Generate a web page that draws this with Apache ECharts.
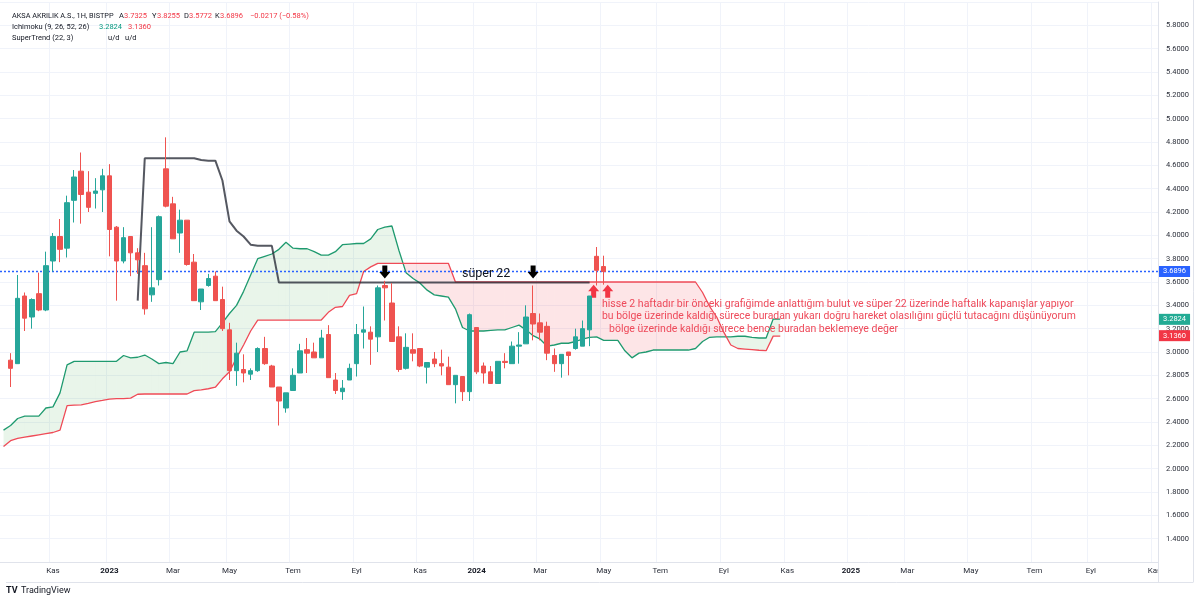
<!DOCTYPE html>
<html>
<head>
<meta charset="utf-8">
<title>AKSA haftalık</title>
<script src="https://cdn.jsdelivr.net/npm/echarts@6.0.0/dist/echarts.min.js"></script>
<style>
  html, body { margin: 0; padding: 0; background: #fff; }
  #chart { width: 1200px; height: 601px; }
</style>
</head>
<body>
<div id="chart"></div>
<script>
// weekly bars; index 0 is an empty week, candles start at index 1
const START_WEEK = '2022-09-19'
const WEEK_COUNT = 164
const MONTHS_TR = ['Oca', 'Şub', 'Mar', 'Nis', 'May', 'Haz', 'Tem', 'Ağu', 'Eyl', 'Eki', 'Kas', 'Ara']

const openVals = [2.93, 2.90, 3.48, 3.30, 3.50, 3.36, 3.78, 3.99, 3.89, 4.30, 4.55, 4.37, 4.36, 4.39, 4.51, 4.07, 3.78, 3.99, 3.85, 3.74,
  3.49, 3.62, 4.57, 4.27, 4.02, 4.13, 3.77, 3.43, 3.57, 3.65, 3.45, 3.19, 2.84, 2.85, 2.81, 2.84, 3.03, 2.88, 2.70, 2.52,
  2.67, 2.82, 3.02, 3.00, 2.95, 3.15, 2.76, 2.66, 2.76, 2.90, 3.17, 3.17, 3.13, 3.57, 3.42, 3.13, 2.86, 3.02, 3.03, 2.87,
  2.94, 2.90, 2.87, 2.72, 2.79, 2.66, 3.21, 2.88, 2.83, 2.73, 2.92, 2.90, 3.05, 3.07, 3.33, 3.25, 3.22, 2.97, 2.90, 3.00,
  3.03, 3.05, 3.19, 3.82, 3.7325]
const highVals = [2.99, 3.66, 3.51, 3.46, 3.68, 3.86, 4.02, 4.14, 4.34, 4.56, 4.71, 4.55, 4.49, 4.57, 4.61, 4.08, 4.07, 3.99, 3.89, 3.85,
  4.07, 4.17, 4.84, 4.33, 4.22, 4.13, 3.84, 3.54, 3.67, 3.69, 3.56, 3.25, 3.08, 2.98, 2.86, 3.04, 3.13, 2.89, 2.70, 2.65,
  2.86, 3.07, 3.12, 3.08, 3.19, 3.23, 2.82, 2.76, 2.90, 3.24, 3.39, 3.22, 3.57, 3.61, 3.59, 3.22, 3.16, 3.16, 3.03, 2.91,
  3.00, 3.02, 2.96, 2.80, 2.79, 3.33, 3.21, 2.91, 2.88, 2.92, 2.99, 3.09, 3.17, 3.40, 3.57, 3.33, 3.26, 3.03, 2.98, 3.00,
  3.20, 3.27, 3.48, 3.90, 3.8255]
const lowVals = [2.70, 2.90, 3.18, 3.20, 3.35, 3.35, 3.69, 3.77, 3.81, 4.11, 4.10, 4.20, 4.23, 4.20, 3.82, 3.44, 3.76, 3.65, 3.67, 3.32,
  3.43, 3.57, 4.24, 3.97, 3.85, 3.74, 3.44, 3.36, 3.56, 3.44, 3.18, 2.76, 2.71, 2.74, 2.76, 2.83, 2.89, 2.70, 2.37, 2.48,
  2.67, 2.82, 2.82, 2.95, 2.95, 2.78, 2.64, 2.59, 2.76, 2.79, 3.03, 2.89, 3.00, 3.27, 3.09, 2.83, 2.85, 2.92, 2.87, 2.73,
  2.87, 2.80, 2.72, 2.56, 2.58, 2.58, 2.81, 2.73, 2.73, 2.73, 2.86, 2.90, 2.90, 3.07, 3.10, 3.10, 2.93, 2.83, 2.78, 2.80,
  3.02, 3.05, 3.05, 3.57, 3.5772]
const closeVals = [2.86, 3.46, 3.29, 3.45, 3.36, 3.74, 3.99, 3.88, 4.28, 4.50, 4.35, 4.24, 4.38, 4.51, 4.05, 3.78, 3.98, 3.85, 3.79, 3.37,
  3.55, 4.16, 4.25, 3.97, 4.13, 3.75, 3.44, 3.54, 3.63, 3.44, 3.20, 2.84, 2.99, 2.82, 2.84, 3.03, 2.90, 2.70, 2.58, 2.65,
  2.80, 3.01, 2.99, 2.95, 3.12, 2.78, 2.67, 2.69, 2.86, 3.15, 3.19, 3.11, 3.55, 3.55, 3.09, 2.85, 3.04, 2.99, 2.88, 2.91,
  2.90, 2.88, 2.72, 2.80, 2.66, 3.32, 2.83, 2.82, 2.73, 2.92, 2.91, 3.05, 3.06, 3.30, 3.24, 3.17, 2.99, 2.90, 2.98, 2.97,
  3.13, 3.20, 3.48, 3.70, 3.6896]

// Ichimoku leading spans (already shifted forward), index 0..110
const spanA = [2.33, 2.37, 2.43, 2.45, 2.45, 2.45, 2.52, 2.53, 2.65, 2.89, 2.92, 2.92, 2.92, 2.92, 2.92, 2.92, 2.92, 2.97, 2.95, 2.955,
  2.974, 2.94, 2.90, 2.91, 2.90, 3.00, 3.01, 3.17, 3.17, 3.17, 3.175, 3.25, 3.33, 3.40, 3.52, 3.66, 3.80, 3.82, 3.84, 3.88,
  3.94, 3.89, 3.885, 3.885, 3.86, 3.83, 3.83, 3.86, 3.92, 3.925, 3.93, 3.93, 3.97, 4.05, 4.07, 4.08, 3.87, 3.68, 3.63, 3.59,
  3.53, 3.49, 3.48, 3.47, 3.37, 3.21, 3.18, 3.18, 3.18, 3.185, 3.19, 3.19, 3.21, 3.23, 3.19, 3.14, 3.11, 3.05, 3.06, 3.075,
  3.075, 3.09, 3.11, 3.125, 3.13, 3.10, 3.10, 3.10, 3.01, 2.95, 2.99, 3.00, 3.017, 3.017, 3.017, 3.017, 3.017, 3.017, 3.03, 3.09,
  3.126, 3.13, 3.13, 3.13, 3.135, 3.135, 3.125, 3.12, 3.12, 3.2824, 3.2824]
const spanB = [2.19, 2.24, 2.26, 2.27, 2.28, 2.29, 2.30, 2.31, 2.33, 2.54, 2.545, 2.547, 2.56, 2.575, 2.585, 2.596, 2.60, 2.60, 2.605, 2.638,
  2.64, 2.64, 2.64, 2.64, 2.64, 2.64, 2.64, 2.669, 2.675, 2.685, 2.698, 2.77, 2.83, 2.95, 3.06, 3.18, 3.274, 3.274, 3.274, 3.274,
  3.274, 3.274, 3.274, 3.274, 3.274, 3.274, 3.34, 3.383, 3.39, 3.485, 3.50, 3.69, 3.73, 3.76, 3.76, 3.76, 3.76, 3.76, 3.76, 3.76,
  3.76, 3.76, 3.76, 3.76, 3.60, 3.60, 3.60, 3.60, 3.60, 3.60, 3.60, 3.60, 3.60, 3.60, 3.60, 3.60, 3.60, 3.60, 3.60, 3.60,
  3.60, 3.60, 3.60, 3.60, 3.60, 3.60, 3.60, 3.60, 3.60, 3.60, 3.60, 3.60, 3.60, 3.60, 3.60, 3.60, 3.60, 3.60, 3.60, 3.51,
  3.39, 3.30, 3.17, 3.06, 3.03, 3.025, 3.02, 3.015, 3.011, 3.136, 3.136]

// SuperTrend (22, 3) down line, starts at week index 19
const SUPERTREND_START = 19
const superTrend = [3.44, 4.66, 4.66, 4.66, 4.66, 4.66, 4.66, 4.66, 4.66, 4.645, 4.64, 4.64, 4.47, 4.12, 4.04, 3.99, 3.92, 3.91, 3.91, 3.91,
  3.595, 3.595, 3.595, 3.595, 3.595, 3.595, 3.595, 3.595, 3.595, 3.595, 3.595, 3.595, 3.595, 3.595, 3.595, 3.595, 3.595, 3.595, 3.595, 3.595,
  3.595, 3.595, 3.595, 3.595, 3.595, 3.595, 3.595, 3.595, 3.595, 3.595, 3.595, 3.595, 3.595, 3.595, 3.595, 3.595, 3.595, 3.595, 3.595, 3.595,
  3.595, 3.595, 3.595, 3.595, 3.595]

const LAST_CLOSE = 3.6896
const LEAD1_LAST = 3.2824
const LEAD2_LAST = 3.136

const UP = '#26a69a'
const DOWN = '#ef5350'
const RED = '#f23645'
const GREEN = '#089981'
const DARK = '#131722'
const NOTE = '#ee4a5a'

const weeks = []
const d0 = new Date(START_WEEK + 'T00:00:00Z')
for (let i = 0; i < WEEK_COUNT; i++) {
  weeks.push(new Date(d0.getTime() + i * 7 * 86400000).toISOString().slice(0, 10))
}

function isMarkWeek(idx, val) {
  const m = +val.slice(5, 7) - 1
  const day = +val.slice(8, 10)
  return day <= 7 && m % 2 === 0
}

function weekLabel(val) {
  const m = +val.slice(5, 7) - 1
  if (m === 0) return '{y|' + val.slice(0, 4) + '}'
  return MONTHS_TR[m]
}

const candleData = openVals.map((o, k) => [k + 1, o, closeVals[k], lowVals[k], highVals[k]])
const spanAData = spanA.map((v, i) => [i, v])
const spanBData = spanB.map((v, i) => [i, v])
const stData = superTrend.map((v, k) => [k + SUPERTREND_START, v])
const cloudData = spanA.slice(0, -1).map((v, i) => [i, v, spanB[i]])

const DOWN_ARROW = 'path://M3,0 L8,0 L8,6 L11,6 L5.5,12 L0,6 L3,6 Z'
const UP_ARROW = 'path://M5.5,0 L11,6 L8,6 L8,12 L3,12 L3,6 L0,6 Z'

function renderCloud(params, api) {
  const i = api.value(0)
  const a0 = api.coord([i, spanA[i]])
  const b0 = api.coord([i, spanB[i]])
  const a1 = api.coord([i + 1, spanA[i + 1]])
  const b1 = api.coord([i + 1, spanB[i + 1]])
  const dA = spanA[i] - spanB[i]
  const dB = spanA[i + 1] - spanB[i + 1]
  const fill = (d) => (d >= 0 ? 'rgba(76,175,80,0.12)' : 'rgba(242,54,69,0.13)')
  if (dA * dB >= 0) {
    return {
      type: 'polygon',
      shape: { points: [a0, a1, b1, b0] },
      style: { fill: fill(dA + dB) },
    }
  }
  const t = dA / (dA - dB)
  const p = [a0[0] + t * (a1[0] - a0[0]), a0[1] + t * (a1[1] - a0[1])]
  return {
    type: 'group',
    children: [
      { type: 'polygon', shape: { points: [a0, p, b0] }, style: { fill: fill(dA) } },
      { type: 'polygon', shape: { points: [p, a1, b1] }, style: { fill: fill(dB) } },
    ],
  }
}

function txt(x, y, text, color, font) {
  return {
    type: 'text',
    x,
    y,
    silent: true,
    z: 100,
    style: { text, fill: color, font: font || '7.5px Roboto', verticalAlign: 'middle', align: 'left' },
  }
}

const tagLabel = (text, bg) => ({
  show: true,
  position: 'end',
  distance: 1,
  formatter: text,
  color: '#fff',
  backgroundColor: bg,
  padding: [2, 4, 1, 4],
  fontSize: 7.5,
  fontFamily: 'Roboto',
})

const chart = echarts.init(document.getElementById('chart'))
chart.setOption({
  animation: false,
  backgroundColor: '#fff',
  textStyle: { fontFamily: 'Roboto' },
  grid: { left: 0, right: 42, top: 2, bottom: 39, containLabel: false, outerBoundsMode: 'none' },
  xAxis: {
    type: 'category',
    data: weeks,
    boundaryGap: true,
    axisLine: { lineStyle: { color: '#e0e3eb' } },
    axisTick: { show: false },
    axisLabel: {
      interval: isMarkWeek,
      formatter: weekLabel,
      color: '#2a2e39',
      fontSize: 8,
      margin: 5,
      rich: { y: { fontWeight: 'bold', fontSize: 8, color: DARK } },
    },
    splitLine: { show: true, interval: isMarkWeek, lineStyle: { color: '#f0f3fa' } },
  },
  yAxis: {
    type: 'value',
    position: 'right',
    min: 1.2,
    max: 6.0,
    interval: 0.2,
    axisLine: { show: true, lineStyle: { color: '#e0e3eb' } },
    axisTick: { show: false },
    axisLabel: {
      margin: 8,
      fontSize: 7.5,
      color: '#2a2e39',
      formatter: (v) => {
        if (v < 1.3 || v > 5.9) return ''
        if (Math.abs(v - 2.8) < 1e-6) return '2.8005'
        return v.toFixed(4)
      },
    },
    splitLine: { show: true, lineStyle: { color: '#f0f3fa' } },
  },
  series: [
    {
      name: 'cloud',
      type: 'custom',
      renderItem: renderCloud,
      data: cloudData,
      encode: { x: 0, y: [1, 2] },
      silent: true,
      z: 1,
    },
    {
      name: 'Lead 1',
      type: 'line',
      data: spanAData,
      showSymbol: false,
      lineStyle: { color: '#1f9a6f', width: 1.3 },
      z: 3,
      markLine: {
        silent: true,
        symbol: 'none',
        lineStyle: { color: 'transparent', width: 0 },
        label: tagLabel(LEAD1_LAST.toFixed(4), '#22ab94'),
        data: [{ yAxis: LEAD1_LAST }],
      },
    },
    {
      name: 'Lead 2',
      type: 'line',
      data: spanBData,
      showSymbol: false,
      lineStyle: { color: '#ef4b57', width: 1.3 },
      z: 3,
      markLine: {
        silent: true,
        symbol: 'none',
        lineStyle: { color: 'transparent', width: 0 },
        label: tagLabel(LEAD2_LAST.toFixed(4), RED),
        data: [{ yAxis: LEAD2_LAST }],
      },
    },
    {
      name: 'SuperTrend',
      type: 'line',
      data: stData,
      showSymbol: false,
      lineStyle: { color: '#2a2e39', width: 2, opacity: 0.8 },
      z: 4,
    },
    {
      name: 'AKSA',
      type: 'candlestick',
      data: candleData,
      encode: { x: 0, y: [1, 2, 3, 4] },
      barWidth: 5,
      itemStyle: { color: UP, color0: DOWN, borderColor: UP, borderColor0: DOWN, borderWidth: 1 },
      z: 5,
      markLine: {
        silent: true,
        symbol: 'none',
        lineStyle: { color: '#2962ff', type: [2, 2], width: 1.4, opacity: 1 },
        label: tagLabel(LAST_CLOSE.toFixed(4), '#2962ff'),
        data: [{ yAxis: LAST_CLOSE }],
      },
      markPoint: {
        silent: true,
        label: { show: false },
        data: [
          { coord: [weeks[54], 3.685], symbol: DOWN_ARROW, symbolSize: [11, 13], itemStyle: { color: '#000' } },
          { coord: [weeks[75], 3.685], symbol: DOWN_ARROW, symbolSize: [11, 13], itemStyle: { color: '#000' } },
          { coord: [weeks[84], 3.52], symbol: UP_ARROW, symbolSize: [11, 13], symbolOffset: [-3, 0], itemStyle: { color: RED } },
          { coord: [weeks[85], 3.52], symbol: UP_ARROW, symbolSize: [11, 13], symbolOffset: [4, 0], itemStyle: { color: RED } },
        ],
      },
    },
  ],
  graphic: [
    // header legend
    txt(12, 16, 'AKSA AKRILIK A.S., 1H, BISTPP', DARK, '7.3px Roboto'),
    txt(119, 16, 'A', DARK), txt(124, 16, '3.7325', RED),
    txt(152, 16, 'Y', DARK), txt(157, 16, '3.8255', RED),
    txt(184, 16, 'D', DARK), txt(189, 16, '3.5772', RED),
    txt(215, 16, 'K', DARK), txt(220, 16, '3.6896', RED),
    txt(250, 16, '−0.0217 (−0.58%)', RED),
    txt(12, 27, 'Ichimoku (9, 26, 52, 26)', DARK),
    txt(99, 27, '3.2824', GREEN), txt(128, 27, '3.1360', RED),
    txt(12, 38, 'SuperTrend (22, 3)', DARK),
    txt(108, 38, 'u/d', DARK), txt(125, 38, 'u/d', DARK),
    // drawings
    txt(462, 274, 'süper 22', DARK, '12.5px Roboto'),
    txt(602, 304, 'hisse 2 haftadır bir önceki grafiğimde anlattığım bulut ve süper 22 üzerinde haftalık kapanışlar yapıyor', NOTE, '10.5px Roboto'),
    txt(602, 316.5, 'bu bölge üzerinde kaldığı sürece buradan yukarı doğru hareket olasılığını güçlü tutacağını düşünüyorum', NOTE, '10.4px Roboto'),
    txt(609, 329, 'bölge üzerinde kaldığı sürece bence buradan beklemeye değer', NOTE, '10.5px Roboto'),
    // frame of the time scale row
    { type: 'rect', silent: true, z: 90, shape: { x: 1158.5, y: 563, width: 41, height: 19 }, style: { fill: '#fff' } },
    { type: 'line', silent: true, z: 91, shape: { x1: 6, y1: 582.5, x2: 1193, y2: 582.5 }, style: { stroke: '#e0e3eb', lineWidth: 1 } },
    { type: 'line', silent: true, z: 91, shape: { x1: 1158.5, y1: 562, x2: 1158.5, y2: 582.5 }, style: { stroke: '#e0e3eb', lineWidth: 1 } },
    { type: 'line', silent: true, z: 91, shape: { x1: 1193.5, y1: 0, x2: 1193.5, y2: 582.5 }, style: { stroke: '#e0e3eb', lineWidth: 1 } },
    // logo
    txt(6, 591, 'TV', DARK, 'bold 9px Roboto'),
    txt(21, 591, 'TradingView', DARK, '9px Roboto'),
  ],
})
</script>
</body>
</html>
